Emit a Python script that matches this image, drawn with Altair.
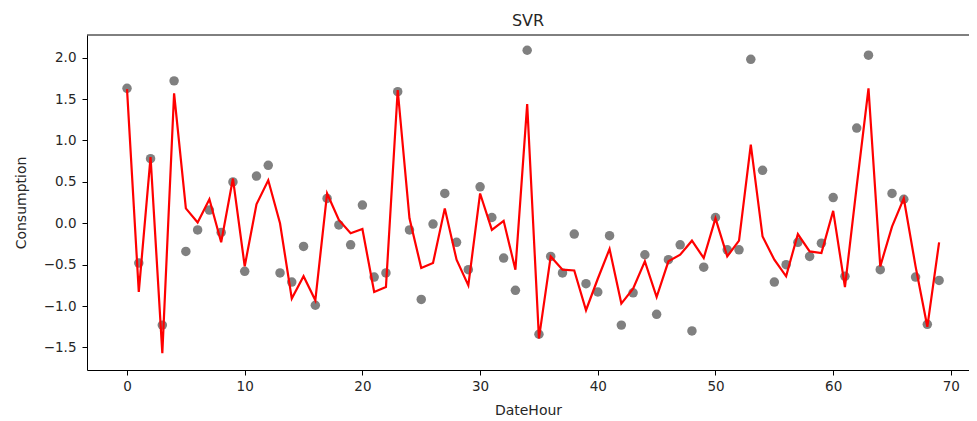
import altair as alt
import pandas as pd

hours = list(range(70))

actual = [
    1.63, -0.48, 0.78, -1.23, 1.72, -0.34, -0.08, 0.16, -0.11, 0.50,
    -0.58, 0.57, 0.70, -0.60, -0.71, -0.28, -0.99, 0.30, -0.02, -0.26,
    0.22, -0.65, -0.60, 1.59, -0.08, -0.92, -0.01, 0.36, -0.23, -0.56,
    0.44, 0.07, -0.42, -0.81, 2.09, -1.34, -0.40, -0.60, -0.13, -0.73,
    -0.83, -0.15, -1.23, -0.84, -0.38, -1.10, -0.44, -0.26, -1.30, -0.53,
    0.07, -0.32, -0.32, 1.98, 0.64, -0.71, -0.50, -0.23, -0.40, -0.24,
    0.31, -0.64, 1.15, 2.03, -0.56, 0.36, 0.29, -0.65, -1.22, -0.69,
]

predicted = [
    1.62, -0.83, 0.80, -1.57, 1.57, 0.18, 0.01, 0.29, -0.23, 0.54,
    -0.52, 0.23, 0.52, 0.00, -0.91, -0.64, -0.93, 0.36, 0.04, -0.12,
    -0.07, -0.83, -0.77, 1.61, 0.06, -0.54, -0.48, 0.18, -0.44, -0.75,
    0.36, -0.08, 0.03, -0.56, 1.44, -1.39, -0.40, -0.56, -0.57, -1.05,
    -0.67, -0.31, -0.97, -0.79, -0.46, -0.89, -0.46, -0.38, -0.21, -0.42,
    0.06, -0.40, -0.21, 0.95, -0.16, -0.44, -0.64, -0.13, -0.34, -0.36,
    0.15, -0.77, 0.45, 1.63, -0.52, -0.04, 0.30, -0.52, -1.25, -0.23,
]

x_ticks = [0, 10, 20, 30, 40, 50, 60, 70]
y_ticks = [-1.5, -1.0, -0.5, 0.0, 0.5, 1.0, 1.5, 2.0]

df = pd.DataFrame({"DateHour": hours, "Consumption": actual, "Predicted": predicted})

W, H = 882, 335
FONT = "DejaVu Sans"

x_scale = alt.Scale(domain=[-3.4, 71.54], nice=False, zero=False)
y_scale = alt.Scale(domain=[-1.772, 2.274], nice=False, zero=False)

common = dict(grid=False, tickSize=5, labelFontSize=13.5, titleFontSize=14,
              domainColor="#000", tickColor="#000", labelColor="#262626", titleColor="#262626",
              labelFont=FONT, titleFont=FONT, titleFontWeight="normal")
x_axis = alt.Axis(values=x_ticks, format="d", labelPadding=4, titlePadding=11, **common)
y_axis = alt.Axis(values=y_ticks, format=".1f", labelPadding=6, titlePadding=15, **common)

base = alt.Chart(df)

points = base.mark_circle(size=90, color="#808080", opacity=1).encode(
    x=alt.X("DateHour:Q", scale=x_scale, axis=x_axis, title="DateHour"),
    y=alt.Y("Consumption:Q", scale=y_scale, axis=y_axis, title="Consumption"),
)

line = base.mark_line(color="#ff0000", strokeWidth=2.2).encode(
    x=alt.X("DateHour:Q", scale=x_scale),
    y=alt.Y("Predicted:Q", scale=y_scale),
)

top_border = alt.Chart(pd.DataFrame({"a": [0]})).mark_rule(color="#000", strokeWidth=1).encode(
    x=alt.value(0), x2=alt.value(W), y=alt.value(0)
)

chart = alt.layer(points, line, top_border).properties(
    width=W, height=H,
    title=alt.TitleParams("SVR", fontSize=16, font=FONT, fontWeight="normal", color="#262626",
                          anchor="middle", offset=6),
    autosize=alt.AutoSizeParams(type="none"),
    padding={"left": 79, "top": 27, "right": 0, "bottom": 51},
).configure_view(stroke=None).configure_axis(domainWidth=1)

chart.save("out.html", embed_options={"renderer": "svg", "actions": False})
